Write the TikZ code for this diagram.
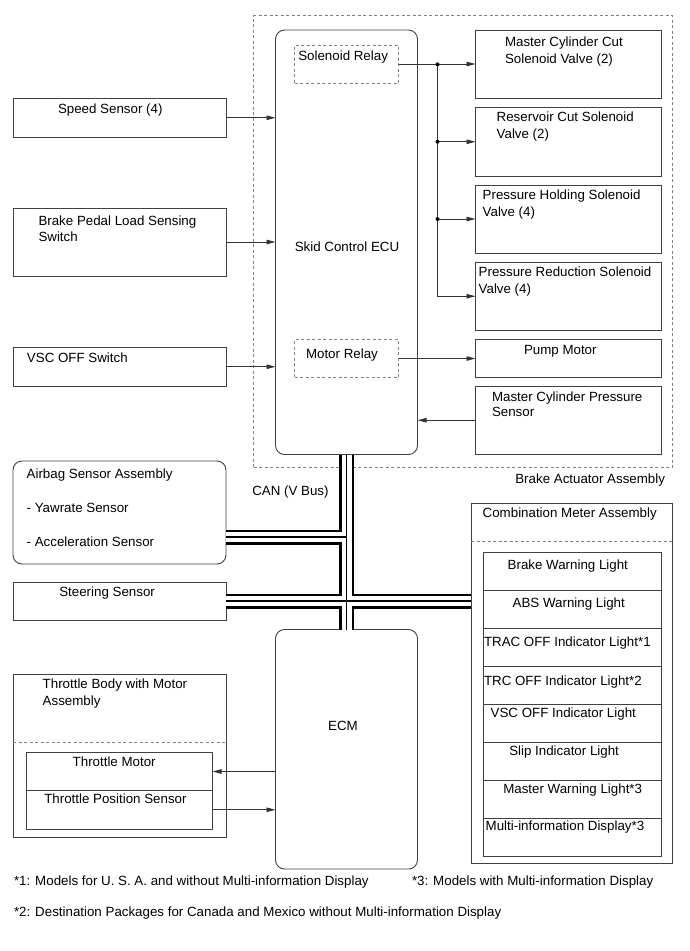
\documentclass[tikz,border=0pt]{standalone}
\usepackage{fontspec}
\setmainfont{Liberation Sans}
\usetikzlibrary{arrows.meta,fit}
\begin{document}
\begin{tikzpicture}[x=1pt,y=-1pt,
  box/.style={draw=black!75, line width=0.9pt, inner sep=0pt, outer sep=0pt},
  dbox/.style={draw=black!50, line width=0.9pt, dash pattern=on 3pt off 2.5pt, inner sep=0pt, outer sep=0pt},
  rbox/.style={box, rounded corners=9pt},
  txt/.style={font=\fontsize{13.33pt}{16pt}\selectfont, inner sep=0pt, outer sep=0pt, anchor=base west, text=black},
  arr/.style={draw=black!80, line width=0.9pt, -{Triangle[length=9pt,width=4.5pt]}},
  wire/.style={draw=black!80, line width=0.9pt},
  dot/.style={fill=black, circle, inner sep=0pt, minimum size=4pt}]
\useasboundingbox (0,0) rectangle (690,951);

% ---- Brake actuator assembly (dashed)
\node[dbox, fit={(253.5,15.5) (672.5,467)}] (act) {};
\node[txt, anchor=base east] (acttxt) at (665,483.5) {Brake Actuator Assembly};

% ---- Left boxes
\node[box, fit={(13,98) (226,137.5)}] (speed) {};
\node[txt] (speedt) at (58,113.5) {Speed Sensor (4)};
\node[box, fit={(13,208) (226,276)}] (brake) {};
\node[txt] (braket1) at (38.5,225.7) {Brake Pedal Load Sensing};
\node[txt] (braket2) at (38.5,241.7) {Switch};
\node[box, fit={(13,347.5) (226,386)}] (vscsw) {};
\node[txt] (vscswt) at (27,362.5) {VSC OFF Switch};
\node[rbox, fit={(13,461) (226,564)}] (airbag) {};
\node[txt] (airbagt1) at (26.7,478.3) {Airbag Sensor Assembly};
\node[txt] (airbagt2) at (26.7,512.7) {- Yawrate Sensor};
\node[txt] (airbagt3) at (26.7,546.7) {- Acceleration Sensor};
\node[box, fit={(13,582) (226,620)}] (steer) {};
\node[txt] (steert) at (59.3,596.7) {Steering Sensor};
\node[box, fit={(13,674) (226,837)}] (thr) {};
\draw[dbox] (thr.west |- 0,742) -- (thr.east |- 0,742);
\node[txt] (thrt1) at (42.7,688.3) {Throttle Body with Motor};
\node[txt] (thrt2) at (42.7,705) {Assembly};
\node[box, fit={(26.5,752.5) (212.5,790.5)}] (thrmot) {};
\node[box, fit={(26.5,790.5) (212.5,829)}] (thrpos) {};
\node[txt] (thrmott) at (72.7,766) {Throttle Motor};
\node[txt] (thrpost) at (44.3,803.3) {Throttle Position Sensor};

% ---- Skid control ECU
\node[rbox, fit={(275.5,30) (417.5,454.5)}] (ecu) {};
\node[txt, anchor=base] (ecut) at (347,251.5) {Skid Control ECU};
\node[dbox, fit={(294.5,45) (398.5,83)}] (solrel) {};
\node[txt] (solrelt) at (298.3,60.7) {Solenoid Relay};
\node[dbox, fit={(294.5,339.5) (398.5,377.5)}] (motrel) {};
\node[txt] (motrelt) at (306,358.3) {Motor Relay};

% ---- Right actuator boxes
\node[box, fit={(475.5,30) (661.5,98.5)}] (mccut) {};
\node[txt] (mccutt1) at (505,46) {Master Cylinder Cut};
\node[txt] (mccutt2) at (505,63.3) {Solenoid Valve (2)};
\node[box, fit={(475.5,107.5) (661.5,176)}] (rescut) {};
\node[txt] (rescutt1) at (496.7,121.7) {Reservoir Cut Solenoid};
\node[txt] (rescutt2) at (496.7,138.3) {Valve (2)};
\node[box, fit={(475.5,185) (661.5,253)}] (phold) {};
\node[txt] (pholdt1) at (482.7,199.3) {Pressure Holding Solenoid};
\node[txt] (pholdt2) at (482.7,216) {Valve (4)};
\node[box, fit={(475.5,262.5) (661.5,330)}] (pred) {};
\node[txt] (predt1) at (478.7,276.7) {Pressure Reduction Solenoid};
\node[txt] (predt2) at (478.7,293) {Valve (4)};
\node[box, fit={(475.5,339.5) (661.5,377.5)}] (pump) {};
\node[txt] (pumpt) at (524,354) {Pump Motor};
\node[box, fit={(475.5,386.5) (661.5,454)}] (mcps) {};
\node[txt] (mcpst1) at (492,401.7) {Master Cylinder Pressure};
\node[txt] (mcpst2) at (492,416.7) {Sensor};

% ---- ECM
\node[rbox, fit={(275.5,629.5) (417.5,869)}] (ecm) {};
\node[txt, anchor=base] (ecmt) at (343,730) {ECM};

% ---- Combination meter
\node[box, fit={(471,503.5) (672.5,863.5)}] (comb) {};
\draw[dbox] (comb.west |- 0,541.5) -- (comb.east |- 0,541.5);
\node[txt] (combt) at (482.7,517.3) {Combination Meter Assembly};
\node[box, fit={(483,552.5) (661,590.5)}] (r1) {};
\node[box, fit={(483,590.5) (661,628.5)}] (r2) {};
\node[box, fit={(483,628.5) (661,666.5)}] (r3) {};
\node[box, fit={(483,666.5) (661,704.5)}] (r4) {};
\node[box, fit={(483,704.5) (661,742.5)}] (r5) {};
\node[box, fit={(483,742.5) (661,780.5)}] (r6) {};
\node[box, fit={(483,780.5) (661,818.5)}] (r7) {};
\node[box, fit={(483,818.5) (661,856.5)}] (r8) {};
\node[txt] (r1t) at (507.7,569.3) {Brake Warning Light};
\node[txt] (r2t) at (512.7,607.7) {ABS Warning Light};
\node[txt] (r3t) at (484,646.7) {TRAC OFF Indicator Light*1};
\node[txt] (r4t) at (484,685) {TRC OFF Indicator Light*2};
\node[txt] (r5t) at (490.7,717.3) {VSC OFF Indicator Light};
\node[txt] (r6t) at (509.3,755.7) {Slip Indicator Light};
\node[txt] (r7t) at (503.3,793.3) {Master Warning Light*3};
\node[txt] (r8t) at (485.7,830) {Multi-information Display*3};

% ---- CAN label and footnotes
\node[txt] (cant) at (252.3,495) {CAN (V Bus)};
\node[txt] (fn1) at (14,885) {*1: Models for U. S. A. and without Multi-information Display};
\node[txt] (fn3) at (412,885) {*3: Models with Multi-information Display};
\node[txt] (fn2) at (14,916.5) {*2: Destination Packages for Canada and Mexico without Multi-information Display};

% ---- Signal connectors
\draw[arr] (speed.east) -- (ecu.west |- speed.east);
\draw[arr] (brake.east) -- (ecu.west |- brake.east);
\draw[arr] (vscsw.east) -- (ecu.west |- vscsw.east);
\draw[arr] (motrel.east) -- (pump.west |- motrel.east);
\draw[arr] (mcps.west) -- (ecu.east |- mcps.west);
\draw[arr] (ecm.west |- thrmot.east) -- (thrmot.east);
\draw[arr] (thrpos.east) -- (ecm.west |- thrpos.east);

\coordinate (j1) at (437.5,64.3);
\coordinate (j2) at (j1 |- rescut.west);
\coordinate (j3) at (j1 |- phold.west);
\draw[arr] (solrel.east) -- (mccut.west |- solrel.east);
\draw[wire] (j1) -- (j3);
\draw[arr] (j3) |- (pred.west);
\draw[arr] (j2) -- (rescut.west);
\draw[arr] (j3) -- (phold.west);
\node[dot] (d1) at (j1) {};
\node[dot] (d2) at (j2) {};
\node[dot] (d3) at (j3) {};

% ---- CAN bus (double wire)
\coordinate (b1) at (ecu.south |- 0,537);
\foreach \w/\c in {15/black, 10/white, 1.2/black}{
  \draw[line width=\w pt, draw=\c]
    (ecu.south) -- (ecm.north)
    (airbag.east |- b1) -- (b1)
    (steer.east) -- (comb.west |- steer.east);
}
\end{tikzpicture}
\end{document}
